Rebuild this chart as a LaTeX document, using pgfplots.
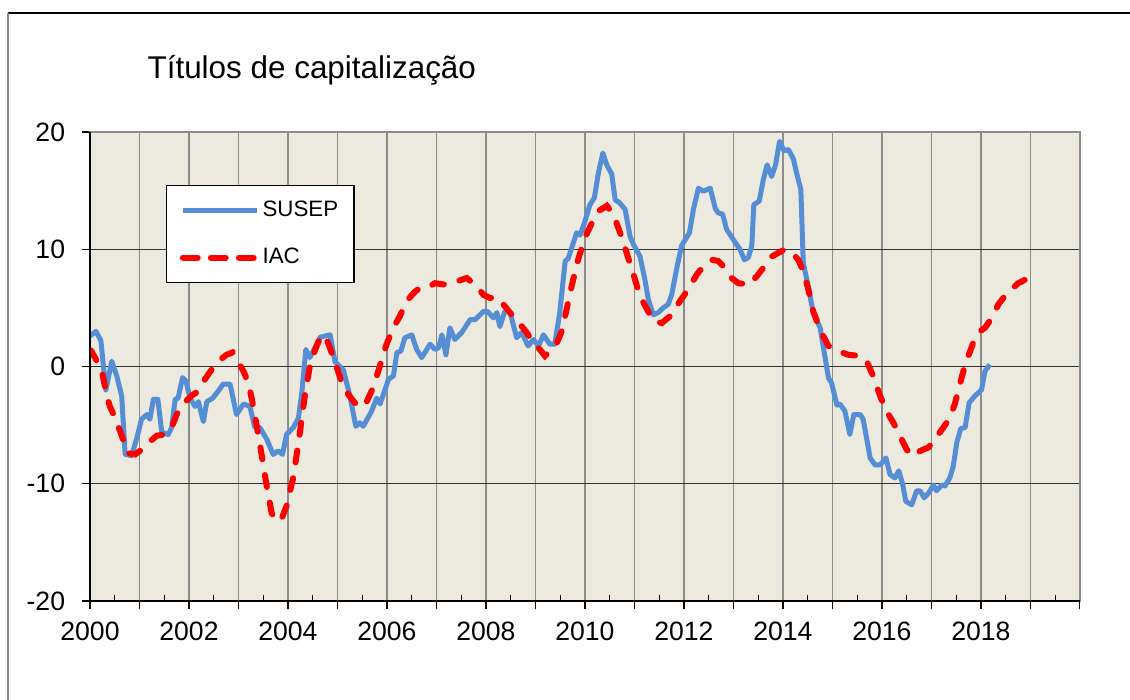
\documentclass[border=0pt]{standalone}
\usepackage{pgfplots}
\pgfplotsset{compat=1.18}
\usepackage{fontspec}
\setmainfont{Liberation Sans}

\definecolor{bgbeige}{HTML}{ECE9DF}
\definecolor{susepblue}{HTML}{558ED5}
\definecolor{gridgray}{HTML}{8C8C8C}

\begin{document}
\begin{tikzpicture}
  % page is 1130 x 700 px, 1 px = 0.35pt
  \useasboundingbox (0,0) rectangle (395.5pt,245pt);
  % outer frame (only top and left edges visible)
  \draw[black, line width=0.6pt] (8*0.35pt,687*0.35pt) -- (400pt,687*0.35pt);
  \draw[gridgray, line width=0.6pt] (8*0.35pt,687*0.35pt) -- (8*0.35pt,-5pt);

  \node[anchor=west, inner sep=0pt, font=\fontsize{11}{13}\selectfont] at (147*0.35pt,630*0.35pt) {Títulos de capitalização};

  \begin{axis}[
      at={(90*0.35pt,99*0.35pt)}, anchor=south west,
      scale only axis,
      width=346.5pt, height=164.15pt,
      xmin=2000, xmax=2020,
      ymin=-20, ymax=20,
      axis background/.style={fill=bgbeige},
      axis line style={gridgray, line width=0.8pt},
      xtick={2000,...,2020},
      xticklabels={2000,,2002,,2004,,2006,,2008,,2010,,2012,,2014,,2016,,2018,,},
      ytick={-20,-10,0,10,20},
      yticklabels={-20,-10,0,10,20},
      xtick pos=bottom, ytick pos=left,
      tick align=outside,
      major tick length=2.8pt,
      tick style={black, line width=0.4pt},
      extra x ticks={2000.5,2001.5,...,2019.5},
      extra x tick labels={},
      extra x tick style={tick align=inside, major tick length=2.1pt, grid=none},
      xmajorgrids, ymajorgrids,
      major x grid style={gridgray, line width=0.6pt},
      major y grid style={black!80, line width=0.4pt},
      tick label style={font=\fontsize{9.3}{11}\selectfont},
      xticklabel style={yshift=-1pt},
      yticklabel style={xshift=-2.4pt},
      legend style={at={(0.0768,0.887)}, anchor=north west,
        draw=black, line width=0.5pt, fill=white,
        font=\fontsize{7.8}{9}\selectfont,
        inner xsep=4.6pt, inner ysep=3.2pt, row sep=5.6pt,
        nodes={inner xsep=1pt, inner ysep=2pt}},
      legend cell align=left,
      legend image code/.code={%
        \draw[#1, overlay] (1pt,0pt) -- (25.7pt,0pt);
        \path (0pt,0pt) -- (25.85pt,0pt);},
    ]
    \addplot[susepblue, line width=1.75pt, line join=round] coordinates {
      (2000.00,2.6) (2000.03,2.7) (2000.12,3.0) (2000.22,2.2) (2000.32,-2.0) (2000.44,0.45)
      (2000.54,-0.8) (2000.64,-2.5) (2000.71,-7.5) (2000.84,-7.6) (2000.94,-6.2)
      (2001.04,-4.5) (2001.15,-4.1) (2001.21,-4.5) (2001.28,-2.8) (2001.37,-2.8)
      (2001.45,-5.6) (2001.58,-5.8) (2001.65,-5.2) (2001.72,-2.8) (2001.78,-2.7)
      (2001.87,-0.95) (2001.94,-1.25) (2002.02,-2.7) (2002.12,-3.4) (2002.19,-3.0)
      (2002.29,-4.7) (2002.36,-3.0) (2002.48,-2.7) (2002.59,-2.1) (2002.69,-1.5)
      (2002.83,-1.5) (2002.96,-4.1) (2003.10,-3.2) (2003.23,-3.4) (2003.33,-5.2)
      (2003.43,-5.2) (2003.57,-6.2) (2003.70,-7.5) (2003.80,-7.2) (2003.89,-7.5)
      (2003.97,-5.8) (2004.11,-5.2) (2004.21,-4.4) (2004.28,-2.2) (2004.36,1.45)
      (2004.44,0.75) (2004.65,2.5) (2004.85,2.7) (2004.95,0.4) (2005.12,-0.3)
      (2005.25,-2.5) (2005.37,-5.1) (2005.45,-4.8) (2005.52,-5.1) (2005.69,-3.8)
      (2005.79,-2.7) (2005.86,-3.2) (2006.03,-1.1) (2006.13,-0.8) (2006.20,1.2)
      (2006.28,1.3) (2006.36,2.45) (2006.50,2.7) (2006.60,1.45) (2006.70,0.75)
      (2006.87,1.9) (2006.97,1.45) (2007.04,1.6) (2007.11,2.7) (2007.19,1.0)
      (2007.27,3.3) (2007.37,2.3) (2007.51,2.9) (2007.68,4.0) (2007.78,4.0)
      (2007.95,4.7) (2008.03,4.7) (2008.15,4.15) (2008.22,4.6) (2008.28,3.4)
      (2008.38,4.7) (2008.48,4.7) (2008.62,2.45) (2008.72,2.9) (2008.85,1.75)
      (2008.96,2.3) (2009.06,1.75) (2009.16,2.7) (2009.29,1.9) (2009.39,1.9)
      (2009.49,4.6) (2009.60,9.0) (2009.66,9.2) (2009.83,11.4) (2009.90,11.2)
      (2010.00,12.4) (2010.10,13.8) (2010.19,14.4) (2010.27,16.5) (2010.36,18.2)
      (2010.44,17.2) (2010.54,16.4) (2010.61,14.2) (2010.69,14.0) (2010.81,13.4)
      (2010.91,11.1) (2010.98,10.4) (2011.11,9.4) (2011.21,7.4) (2011.28,5.7)
      (2011.38,4.4) (2011.48,4.6) (2011.58,5.0) (2011.68,5.3) (2011.75,6.1)
      (2011.85,8.3) (2011.95,10.3) (2012.11,11.4) (2012.19,13.4) (2012.29,15.2)
      (2012.39,14.95) (2012.53,15.2) (2012.63,13.5) (2012.69,13.1) (2012.78,13.0)
      (2012.86,11.7) (2013.00,10.8) (2013.13,10.0) (2013.22,9.1) (2013.30,9.3)
      (2013.37,10.3) (2013.41,13.8) (2013.52,14.1) (2013.60,15.9) (2013.68,17.2)
      (2013.77,16.2) (2013.85,17.2) (2013.93,19.2) (2014.02,18.4) (2014.11,18.5)
      (2014.21,17.7) (2014.28,16.4) (2014.36,15.1) (2014.41,8.8) (2014.51,6.85)
      (2014.61,4.6) (2014.75,3.3) (2014.92,-1.0) (2014.98,-1.4) (2015.09,-3.3)
      (2015.15,-3.2) (2015.25,-3.8) (2015.35,-5.8) (2015.43,-4.1) (2015.56,-4.1)
      (2015.62,-4.5) (2015.76,-7.8) (2015.86,-8.4) (2015.96,-8.4) (2016.08,-7.8)
      (2016.16,-9.2) (2016.26,-9.5) (2016.34,-8.9) (2016.42,-10.1) (2016.48,-11.5)
      (2016.60,-11.8) (2016.70,-10.6) (2016.77,-10.6) (2016.85,-11.2) (2016.94,-10.8)
      (2017.04,-10.1) (2017.10,-10.6) (2017.21,-10.1) (2017.27,-10.2) (2017.37,-9.5)
      (2017.44,-8.5) (2017.51,-6.5) (2017.59,-5.3) (2017.68,-5.2) (2017.76,-3.1)
      (2017.88,-2.5) (2018.01,-2.0) (2018.08,-0.4) (2018.18,0.17)
    };
    \addlegendentry{SUSEP}

    \addplot[red, line width=2.1pt, line cap=round, dash pattern=on 4.2pt off 5.6pt] coordinates {
      (2000.00,1.4) (2000.03,1.3) (2000.14,0.45) (2000.24,-0.4) (2000.34,-2.5) (2000.40,-3.4)
      (2000.51,-4.4) (2000.64,-5.9) (2000.77,-7.4) (2000.91,-7.5) (2001.04,-7.1)
      (2001.18,-6.5) (2001.35,-5.9) (2001.52,-5.8) (2001.65,-5.2) (2001.75,-4.1)
      (2001.88,-3.2) (2002.05,-2.5) (2002.19,-2.1) (2002.32,-1.1) (2002.46,-0.25)
      (2002.59,0.45) (2002.76,1.0) (2002.88,1.2) (2002.96,0.6) (2003.10,-0.4)
      (2003.20,-1.4) (2003.27,-2.8) (2003.37,-5.1) (2003.47,-7.6) (2003.57,-10.2)
      (2003.67,-12.5) (2003.77,-13.2) (2003.87,-13.0) (2003.97,-11.9) (2004.11,-9.4)
      (2004.24,-5.65) (2004.34,-2.5) (2004.44,0.0) (2004.55,1.45) (2004.65,2.45)
      (2004.73,2.7) (2004.81,2.0) (2004.95,0.4) (2005.08,-1.3) (2005.22,-2.4)
      (2005.35,-3.1) (2005.45,-3.5) (2005.59,-3.0) (2005.72,-1.8) (2005.86,0.1)
      (2005.99,1.9) (2006.13,3.3) (2006.26,4.3) (2006.40,5.6) (2006.57,6.4)
      (2006.67,6.7) (2006.80,6.7) (2006.97,7.1) (2007.14,7.0) (2007.27,7.1)
      (2007.44,7.3) (2007.61,7.55) (2007.81,6.85) (2007.95,6.1) (2008.08,5.85)
      (2008.25,5.85) (2008.35,5.3) (2008.52,4.4) (2008.69,3.6) (2008.82,2.9)
      (2008.96,2.0) (2009.09,1.45) (2009.19,0.9) (2009.29,1.3) (2009.43,2.0)
      (2009.53,3.0) (2009.63,4.9) (2009.73,6.85) (2009.86,9.1) (2010.00,11.0)
      (2010.14,12.25) (2010.27,13.25) (2010.44,13.7) (2010.57,13.0) (2010.71,11.4)
      (2010.84,9.7) (2010.98,7.85) (2011.11,6.0) (2011.25,4.9) (2011.38,3.9)
      (2011.55,3.7) (2011.72,4.3) (2011.85,5.15) (2011.99,6.0) (2012.12,6.85)
      (2012.26,7.85) (2012.39,8.55) (2012.56,9.1) (2012.69,9.0) (2012.83,8.4)
      (2012.96,7.55) (2013.10,7.1) (2013.33,7.0) (2013.47,7.7) (2013.60,8.4)
      (2013.74,9.3) (2013.91,9.7) (2014.04,10.0) (2014.18,9.7) (2014.31,9.1)
      (2014.41,8.1) (2014.51,6.6) (2014.61,4.7) (2014.71,3.6) (2014.81,2.6)
      (2014.92,1.75) (2015.12,1.3) (2015.32,1.0) (2015.56,0.9) (2015.69,0.45)
      (2015.82,-0.8) (2015.96,-2.5) (2016.09,-3.8) (2016.23,-4.8) (2016.36,-5.9)
      (2016.50,-7.1) (2016.63,-7.65) (2016.77,-7.2) (2016.94,-6.9) (2017.07,-6.2)
      (2017.24,-5.2) (2017.37,-4.4) (2017.47,-3.2) (2017.58,-1.4) (2017.68,0.17)
      (2017.78,1.3) (2017.88,2.45) (2017.98,3.0) (2018.08,3.3) (2018.22,4.15)
      (2018.35,5.3) (2018.48,6.0) (2018.62,6.6) (2018.75,7.1) (2018.89,7.4)
      (2019.02,7.7) (2019.16,8.0)
    };
    \addlegendentry{IAC}
  \end{axis}
  % left and bottom axis lines are black
  \draw[black, line width=0.7pt] (90*0.35pt,568*0.35pt) -- (90*0.35pt,99*0.35pt) -- (1080*0.35pt,99*0.35pt);
\end{tikzpicture}
\end{document}
